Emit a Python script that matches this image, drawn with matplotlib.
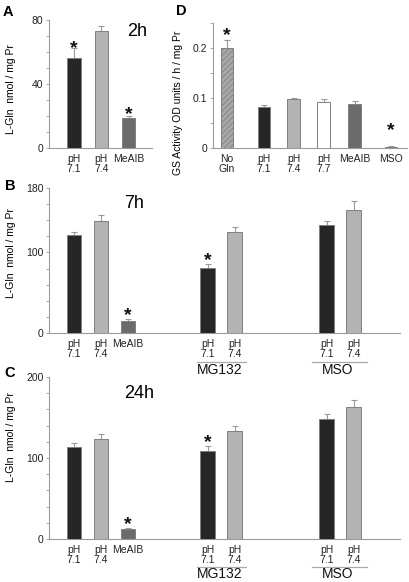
import matplotlib
matplotlib.use("Agg")
import matplotlib.pyplot as plt
from matplotlib.ticker import MultipleLocator, FixedLocator
from matplotlib.transforms import blended_transform_factory

plt.rcParams["font.family"] = ["Liberation Sans", "DejaVu Sans"]
plt.rcParams["hatch.linewidth"] = 0.6
plt.rcParams["hatch.color"] = "#8a8a8a"

# ---- data ----
a_labels = ["pH\n7.1", "pH\n7.4", "MeAIB"]
a_means = [56, 73, 19]
a_errs = [6.5, 3.5, 1.2]
a_stars = [67.5, None, 26.5]

d_labels = ["No\nGln", "pH\n7.1", "pH\n7.4", "pH\n7.7", "MeAIB", "MSO"]
d_means = [0.200, 0.082, 0.098, 0.093, 0.088, 0.0025]
d_errs = [0.015, 0.005, 0.003, 0.006, 0.007, 0.0015]
d_stars = [0.243, None, None, None, None, 0.052]

bc_labels = ["pH\n7.1", "pH\n7.4", "MeAIB", "pH\n7.1", "pH\n7.4", "pH\n7.1", "pH\n7.4"]
b_means = [122, 138.5, 15.5, 80.5, 125, 133.5, 153]
b_errs = [4, 7.5, 2.2, 5.5, 7, 6, 11]
b_stars = [None, None, 33, 101, None, None, None]
c_means = [113, 124, 12.3, 108.5, 133.5, 148, 162.5]
c_errs = [5.5, 5.5, 1.2, 6.5, 6.5, 6, 8.5]
c_stars = [None, None, 28.5, 129.5, None, None, None]
groups = ["MG132", "MSO"]

DARK, LIGHT, MID = "#262626", "#b3b3b3", "#6b6b6b"
a_colors = [DARK, LIGHT, MID]
d_colors = ["#a8a8a8", DARK, LIGHT, "white", MID, DARK]
bc_colors = [DARK, LIGHT, MID, DARK, LIGHT, DARK, LIGHT]
SPINE = "#9a9a9a"

W, H = 410, 582
fig = plt.figure(figsize=(W / 100, H / 100), dpi=100)


def add_axes_px(x0, y0, x1, y1):
    return fig.add_axes([x0 / W, 1 - y1 / H, (x1 - x0) / W, (y1 - y0) / H])


def ftext(x, y, s, **kw):
    fig.text(x / W, 1 - y / H, s, **kw)


def draw_bars(ax, pos, means, errs, colors, stars, width, hatch_first=False):
    bars = ax.bar(pos, means, width, color=colors, edgecolor="#808080",
                  linewidth=0.7, zorder=3)
    if hatch_first:
        bars[0].set_hatch("//////")
    ax.errorbar(pos, means, yerr=[[0] * len(errs), errs], fmt="none",
                ecolor=SPINE, elinewidth=0.8, capsize=2.2, capthick=0.8, zorder=2)
    for x, s in zip(pos, stars):
        if s is not None:
            ax.annotate("*", xy=(x, s), xytext=(0, -9.5), textcoords="offset points",
                        ha="center", va="baseline", fontsize=14, fontweight="bold",
                        color="#111111")


def style(ax, ymax, labels_at, minor):
    for side in ("top", "right"):
        ax.spines[side].set_visible(False)
    for side in ("left", "bottom"):
        ax.spines[side].set_color(SPINE)
        ax.spines[side].set_linewidth(0.8)
    ax.set_ylim(0, ymax)
    ax.yaxis.set_major_locator(FixedLocator(labels_at))
    ax.yaxis.set_minor_locator(MultipleLocator(minor))
    ax.tick_params(axis="y", which="both", length=2.5, width=0.6, color=SPINE,
                   labelsize=7.5, pad=1.5, labelcolor="#222222")
    ax.tick_params(axis="x", length=0, labelsize=7.5, pad=4, labelcolor="#222222")
    ax.set_facecolor("none")


# ---- panel A ----
axA = add_axes_px(49, 20, 152, 148)
posA = [0, 1, 2]
draw_bars(axA, posA, a_means, a_errs, a_colors, a_stars, 0.5)
axA.set_xlim(-0.92, 2.86)
style(axA, 80, [0, 40, 80], 10)
axA.set_xticks(posA, a_labels, linespacing=1.1)
axA.yaxis.set_major_formatter(lambda v, p: f"{v:g}")

# ---- panel D ----
axD = add_axes_px(213, 23, 407, 148)
posD = [0, 1.23, 2.22, 3.22, 4.25, 5.47]
draw_bars(axD, posD, d_means, d_errs, d_colors, d_stars, 0.42, hatch_first=True)
axD.set_xlim(-0.47, 6.0)
style(axD, 0.25, [0, 0.1, 0.2], 0.05)
axD.yaxis.set_major_formatter(lambda v, p: "0" if v == 0 else f"{v:.1f}")
axD.set_xticks(posD, d_labels, linespacing=1.1)

# ---- panels B and C ----
posBC = [0, 1, 2, 4.95, 5.95, 9.35, 10.35]
group_spans = [(4.55, 6.38), (8.8, 10.85)]
group_text_x = [5.4, 9.75]


def panel_bc(box, means, errs, stars, ymax, line_y, text_y):
    ax = add_axes_px(*box)
    draw_bars(ax, posBC, means, errs, bc_colors, stars, 0.55)
    ax.set_xlim(-0.926, 12.07)
    style(ax, ymax, [0, 100, ymax], 20)
    ax.set_xticks(posBC, bc_labels, linespacing=1.1)
    tr = blended_transform_factory(ax.transData, fig.transFigure)
    for (x0, x1), tx, name in zip(group_spans, group_text_x, groups):
        ax.plot([x0, x1], [1 - line_y / H] * 2, transform=tr, color="#aaaaaa",
                lw=0.9, clip_on=False)
        ax.text(tx, 1 - text_y / H, name, transform=tr, ha="center", va="center",
                fontsize=10, color="#111111")
    return ax


axB = panel_bc((49, 188, 400, 333), b_means, b_errs, b_stars, 180, 361.5, 370)
axC = panel_bc((49, 377, 400, 539), c_means, c_errs, c_stars, 200, 567, 574)

# ---- labels ----
ylab = "L-Gln  nmol / mg Pr"
ftext(11, 89, ylab, rotation=90, ha="center", va="center", fontsize=7.5)
ftext(11, 253, ylab, rotation=90, ha="center", va="center", fontsize=7.5)
ftext(11, 437, ylab, rotation=90, ha="center", va="center", fontsize=7.5)
ftext(178, 103, "GS Activity OD units / h / mg Pr", rotation=90, ha="center",
      va="center", fontsize=7.5)

for x, y, s in [(137, 31, "2h"), (134, 203, "7h"), (139, 393, "24h")]:
    ftext(x, y, s, ha="center", va="center", fontsize=13)

for x, y, s in [(8, 12, "A"), (181, 11, "D"), (10, 186, "B"), (10, 373, "C")]:
    ftext(x, y, s, ha="center", va="center", fontsize=10.5, fontweight="bold")

fig.savefig("out.png", dpi=100)
